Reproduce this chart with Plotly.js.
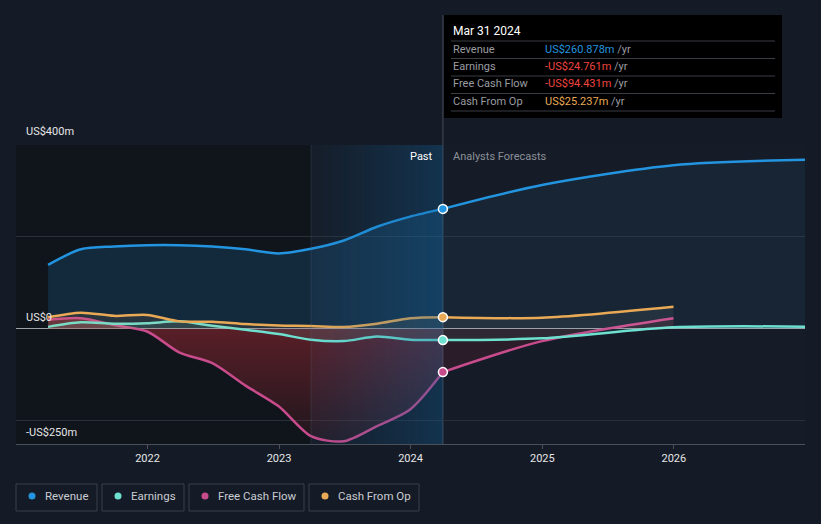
<!DOCTYPE html>
<html>
<head>
<meta charset="utf-8">
<script src="https://cdn.plot.ly/plotly-3.0.1.min.js"></script>
<style>
html,body{margin:0;padding:0;background:#151b26;}
#chart{width:821px;height:524px;}
</style>
</head>
<body>
<div id="chart"></div>
<script>
// ---- data (US$ m) ----
const pastDates = ['2021-03-31','2021-06-30','2021-09-30','2021-12-31','2022-03-31','2022-06-30','2022-09-30','2022-12-31','2023-03-31','2023-06-30','2023-09-30','2023-12-31','2024-03-31'];
const revenuePast  = [139,173,179,182,182,179,173,164,174,192,222,244,260.878];
const earningsPast = [4,14,11,12,16,6.5,-2,-11.6,-24,-27,-17,-24,-24.761];
const fcfPast      = [19.5,23,8,-6,-52,-75,-124,-169,-234,-245,-212,-176,-94.431];
const cfoPast      = [25,35,28,30,16,15,10,7,6,3.6,11,23,25.237];

const fcDates3 = ['2024-03-31','2024-12-31','2025-12-31','2026-12-31'];
const fcDates2 = ['2024-03-31','2024-12-31','2025-12-31'];
const revenueFc  = [260.878,313,356,368];
const earningsFc = [-24.761,-21,3,4.5];
const fcfFc      = [-94.431,-27,23];
const cfoFc      = [25.237,24,48];

const xTickVals = ['2022-01-01','2023-01-01','2024-01-01','2025-01-01','2026-01-01'];
const xTickText = ['2022','2023','2024','2025','2026'];
const yLabels = ['US$400m','US$0','-US$250m'];
const legendNames = ['Revenue','Earnings','Free Cash Flow','Cash From Op'];
const tipDate = 'Mar 31 2024';
const tipValues = ['US$260.878m','-US$24.761m','-US$94.431m','US$25.237m'];

const C = {rev:'#2394df', earn:'#6ee0d0', fcf:'#c84b8c', cfo:'#e9a955'};
const colors = [C.rev, C.earn, C.fcf, C.cfo];
const tipColors = [C.rev, '#f0443f', '#f0443f', C.cfo];

// pixel helpers (plot area: x 16..805, y 145..444)
const W=821,H=524,L=16,R=16,T=145,B=80;
const pw=W-L-R, ph=H-T-B;
const px=x=>(x-L)/pw, py=y=>(H-B-y)/ph;
const FONT='Roboto, sans-serif';
const fmt=ms=>new Date(ms).toISOString().slice(0,19).replace('T',' ');
const X_RANGE=['2021-01-01','2026-12-31'], Y_RANGE=[-251,400];

function line(x,y,color,opts){
  return Object.assign({x:x,y:y,type:'scatter',mode:'lines',
    line:{color:color,width:2.5,shape:'spline',smoothing:0.8},hoverinfo:'skip',showlegend:false},opts||{});
}
const traces = [
  line(pastDates,revenuePast,C.rev,{fill:'tozeroy',fillcolor:'rgba(35,148,223,0.17)'}),
  line(fcDates3,revenueFc,C.rev,{fill:'tozeroy',fillcolor:'rgba(35,148,223,0.08)'}),
  line(pastDates,fcfPast,C.fcf,{fill:'tozeroy',
    fillgradient:{type:'vertical',start:0,stop:-250,colorscale:[[0,'rgba(190,45,55,0.42)'],[1,'rgba(190,45,55,0.08)']]}}),
  line(fcDates2,fcfFc,C.fcf,{fill:'tozeroy',fillcolor:'rgba(190,45,55,0.12)'}),
  line(pastDates,earningsPast,C.earn,{fill:'tozeroy',fillcolor:'rgba(110,224,208,0.10)'}),
  line(fcDates3,earningsFc,C.earn,{fill:'tozeroy',fillcolor:'rgba(110,224,208,0.06)'}),
  line(pastDates,cfoPast,C.cfo,{fill:'tozeroy',fillcolor:'rgba(233,169,85,0.10)'}),
  line(fcDates2,cfoFc,C.cfo,{fill:'tozeroy',fillcolor:'rgba(255,255,255,0.06)'})
];
// gradient highlight band Mar 2023 -> Mar 2024, as a heatmap on an overlaying axis pair (drawn above the lines)
const b0=Date.parse('2023-03-31'), b1=Date.parse('2024-03-31'), N=80;
const bandX=[], bandZ=[];
for(let i=0;i<=N;i++) bandX.push(fmt(b0+(b1-b0)*i/N));
for(let i=0;i<N;i++) bandZ.push((i+0.5)/N);
traces.push({type:'heatmap',xaxis:'x2',yaxis:'y2',x:bandX,y:Y_RANGE,z:[bandZ],zmin:0,zmax:1,zsmooth:false,
  colorscale:[[0,'rgba(14,98,158,0.02)'],[1,'rgba(14,98,158,0.33)']],showscale:false,hoverinfo:'skip'});

const shapes = [
  {type:'rect',xref:'x',yref:'paper',x0:'2021-01-01',x1:'2023-03-31',y0:0,y1:1,fillcolor:'#10141b',line:{width:0},layer:'below'},
  {type:'line',xref:'x',yref:'paper',x0:'2024-03-31',x1:'2024-03-31',y0:0,y1:py(15),line:{color:'rgba(120,130,145,0.45)',width:1},layer:'below'},
  {type:'line',xref:'x',yref:'paper',x0:'2023-03-31',x1:'2023-03-31',y0:0,y1:1,line:{color:'rgba(90,110,135,0.25)',width:1},layer:'above'}
];
// Mar 31 2024 markers, anchored on the data values
const lastVals=[revenuePast[12],earningsPast[12],fcfPast[12],cfoPast[12]];
lastVals.forEach((v,i)=>shapes.push({type:'circle',xref:'x',yref:'y',xsizemode:'pixel',ysizemode:'pixel',
  xanchor:pastDates[12],yanchor:v,x0:-4.5,x1:4.5,y0:-4.5,y1:4.5,fillcolor:colors[i],line:{color:'#ffffff',width:1.5},layer:'above'}));
// tooltip
shapes.push({type:'rect',xref:'paper',yref:'paper',x0:px(444),x1:px(782),y0:py(118),y1:py(15),fillcolor:'#000000',line:{width:0},layer:'above'});
[41,58.5,76,93.5,111].forEach(y=>shapes.push({type:'line',xref:'paper',yref:'paper',x0:px(451),x1:px(775),y0:py(y),y1:py(y),line:{color:'#3a3d44',width:1},layer:'above'}));

const annotations = [];
function ann(text,x,y,opts){
  annotations.push(Object.assign({text:text,xref:'paper',yref:'paper',x:px(x),y:py(y),xanchor:'left',yanchor:'middle',showarrow:false,
    font:{family:FONT,size:11,color:'#e6e6e6'}},opts||{}));
}
ann(yLabels[0],24,131);
ann(yLabels[1],24,317);
ann(yLabels[2],24,432);
ann('Past',435,156,{xanchor:'right',font:{family:FONT,size:11,color:'#ffffff'}});
ann('Analysts Forecasts',451,156,{font:{family:FONT,size:11,color:'#8b9099'}});
ann(tipDate,451,31,{font:{family:FONT,size:12,color:'#ffffff'}});
const tipRows=[49,66.5,84,101.5];
legendNames.forEach((n,i)=>{
  ann(n,451,tipRows[i],{font:{family:FONT,size:11,color:'#9a9ca2'}});
  ann('<span style="color:'+tipColors[i]+'">'+tipValues[i]+'</span> /yr',543,tipRows[i],{font:{family:FONT,size:11,color:'#9a9ca2'}});
});
// legend boxes
const boxes=[[16,97],[102,184],[189,304],[309,419]];
boxes.forEach((b,i)=>{
  shapes.push({type:'rect',xref:'paper',yref:'paper',x0:px(b[0]),x1:px(b[1]),y0:py(511),y1:py(484),fillcolor:'rgba(0,0,0,0)',line:{color:'#3a3f4a',width:1}});
  shapes.push({type:'circle',xref:'paper',yref:'paper',x0:px(b[0]+12.5),x1:px(b[0]+19.5),y0:py(499.5),y1:py(492.5),fillcolor:colors[i],line:{width:0}});
  ann(legendNames[i],b[0]+27,496,{font:{family:FONT,size:11.5,color:'#c9ccd2'}});
});

const layout = {
  width:W,height:H,margin:{l:L,r:R,t:T,b:B},
  paper_bgcolor:'#151b26',plot_bgcolor:'#161c27',
  showlegend:false,
  xaxis:{type:'date',range:X_RANGE,tickvals:xTickVals,ticktext:xTickText,
    ticks:'outside',ticklen:4,tickcolor:'#4a4f58',showgrid:false,zeroline:false,
    showline:true,linecolor:'#4a4f58',linewidth:1,
    tickfont:{family:FONT,size:11,color:'#e6e6e6'},fixedrange:true},
  yaxis:{range:Y_RANGE,tickvals:[-200,0,200,400],showticklabels:false,
    gridcolor:'#2a2f38',gridwidth:1,zeroline:true,zerolinecolor:'#9fa1a8',zerolinewidth:1.5,fixedrange:true},
  xaxis2:{type:'date',range:X_RANGE,overlaying:'x',visible:false,fixedrange:true},
  yaxis2:{range:Y_RANGE,overlaying:'y',visible:false,fixedrange:true},
  shapes:shapes,annotations:annotations
};
Plotly.newPlot('chart',traces,layout,{displayModeBar:false,staticPlot:true});
</script>
</body>
</html>
